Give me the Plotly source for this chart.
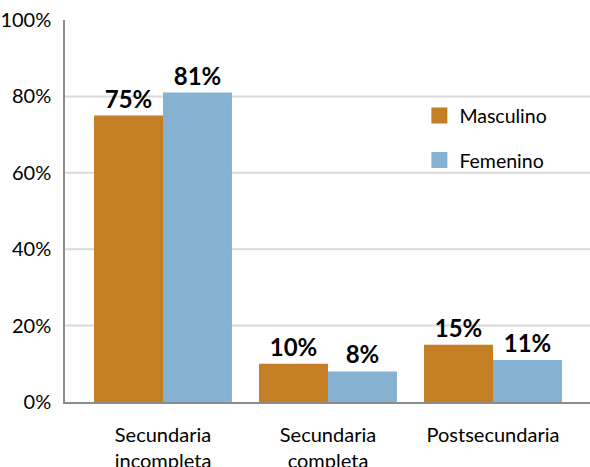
import plotly.graph_objects as go

categories = ["Secundaria<br>incompleta", "Secundaria<br>completa", "Postsecundaria"]
masculino = [75, 10, 15]
femenino = [81, 8, 11]
y_ticks = [0, 20, 40, 60, 80, 100]
y_tick_labels = [f"{v}%" for v in y_ticks]

ORANGE = "#C47F24"
BLUE = "#86B2D1"
FONT = "Lato"

fig = go.Figure()

for name, vals, color in [("Masculino", masculino, ORANGE), ("Femenino", femenino, BLUE)]:
    fig.add_trace(go.Bar(
        x=categories, y=vals, name=name, marker_color=color, marker_line_width=0,
        text=[f"{v}%" for v in vals], textposition="outside", cliponaxis=False,
        textfont=dict(family=FONT, size=24, color="black", weight="bold"),
        showlegend=False,
    ))
    # legend swatch
    fig.add_trace(go.Scatter(
        x=[None], y=[None], mode="markers", name=name, legendgroup=name,
        marker=dict(symbol="square", size=17, color=color),
    ))

# horizontal gridlines (none at the top edge)
for v in y_ticks[1:-1]:
    fig.add_shape(type="line", xref="paper", x0=0, x1=1, yref="y", y0=v, y1=v,
                  line=dict(color="#D9D9D9", width=2), layer="below")

fig.update_layout(
    width=590, height=467,
    margin=dict(l=65, r=0, t=20, b=65),
    paper_bgcolor="white", plot_bgcolor="white",
    barmode="group", bargap=0.164, bargroupgap=0,
    font=dict(family=FONT, size=20, color="black"),
    legend=dict(x=0.675, y=0.80, xanchor="left", yanchor="top",
                font=dict(size=19.5), tracegroupgap=16, bgcolor="rgba(0,0,0,0)"),
    xaxis=dict(type="category", range=[-0.594, 2.588], showgrid=False, automargin=False,
               showline=True, linecolor="#8C8C8C", linewidth=1.5, ticks="",
               tickfont=dict(size=20), ticklabelstandoff=14),
    yaxis=dict(range=[0, 100], tickmode="array", tickvals=y_ticks, ticktext=y_tick_labels,
               automargin=False, showgrid=False, showline=True, linecolor="#8C8C8C",
               linewidth=1.5, ticks="", ticklabelstandoff=8, tickfont=dict(size=20),
               zeroline=False),
)

fig.write_html("out.html")
